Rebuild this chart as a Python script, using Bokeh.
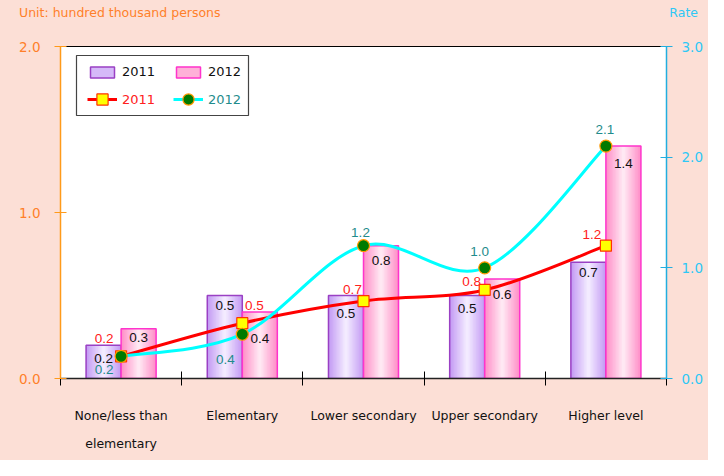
from bokeh.plotting import figure
from bokeh.models import (Range1d, LinearAxis, FixedTicker, Legend, LegendItem,
                          BoxAnnotation, ColumnDataSource, Div)
from bokeh.layouts import column
from bokeh.transform import dodge
from bokeh.embed import file_html
from bokeh.resources import INLINE

# ---------------- data ----------------
categories = ["None/less than\nelementary", "Elementary", "Lower secondary",
              "Upper secondary", "Higher level"]
persons_2011 = [0.2, 0.5, 0.5, 0.5, 0.7]
persons_2012 = [0.3, 0.4, 0.8, 0.6, 1.4]
rate_2011 = [0.2, 0.5, 0.7, 0.8, 1.2]
rate_2012 = [0.2, 0.4, 1.2, 1.0, 2.1]
left_ticks = [0.0, 1.0, 2.0]
right_ticks = [0.0, 1.0, 2.0, 3.0]
series_names = ["2011", "2012"]
unit_text = "Unit: hundred thousand persons"
rate_text = "Rate"

# ---------------- label placement (screen px, down positive) ----------------
bar11_dy = [12.7, 10.4, 17.7, 13.3, 10.3]
bar12_dy = [8.3, 26.0, 14.4, 15.3, 17.4]
rate11_dx = [-17, 12, -11, -13, -14]
rate11_dy = [-18, -18, -12, -8, -11]
rate12_dx = [-17, -17, -3, -5, -1]
rate12_dy = [13, 25, -13, -16, -17]

FONT = "DejaVu Sans"
PEACH = "#fcdfd6"
ORANGE_TXT = "#ff7f2a"
ORANGE_AX = "#ff9a1a"
CYAN_TXT = "#2ec8f5"
CYAN_AX = "#22aee0"
RED = "#ff0000"
TEAL = "#1f8c8c"

n = len(categories)
xc = [i + 0.5 for i in range(n)]
BW = 0.289
HEAD_H = 36

header = Div(text=(
    f'<div style="position:relative;width:708px;height:{HEAD_H}px;'
    f'font-family:\'DejaVu Sans\';font-size:12.5px;line-height:15px;">'
    f'<span style="position:absolute;left:19px;top:5px;color:{ORANGE_TXT};">{unit_text}</span>'
    f'<span style="position:absolute;right:10px;top:5px;color:{CYAN_TXT};">{rate_text}</span>'
    f'</div>'), width=708, height=HEAD_H, margin=0,
    styles={"background-color": PEACH})

p = figure(width=708, height=460 - HEAD_H, output_backend="svg",
           toolbar_location=None, x_range=Range1d(0, n), y_range=Range1d(0, 2),
           min_border_left=60, min_border_right=42, min_border_top=46 - HEAD_H,
           min_border_bottom=82, background_fill_color="white",
           border_fill_color=PEACH, outline_line_color="black",
           outline_line_width=1, margin=0)
p.xgrid.visible = False
p.ygrid.visible = False
p.extra_y_ranges = {"rate": Range1d(0, 3)}

# x axis
xa = p.xaxis[0]
xa.ticker = FixedTicker(ticks=xc, minor_ticks=list(range(n + 1)))
xa.major_label_overrides = {x: c for x, c in zip(xc, categories)}
xa.major_tick_line_color = None
xa.major_tick_out = 0
xa.major_tick_in = 0
xa.minor_tick_line_color = "black"
xa.minor_tick_in = 7
xa.minor_tick_out = 7
xa.axis_line_color = "#222222"
xa.axis_line_width = 1.5
xa.major_label_standoff = 22
xa.major_label_text_font = FONT
xa.major_label_text_font_size = "12.5px"
xa.major_label_text_color = "#111111"
xa.major_label_text_line_height = 1.9

# left axis
ya = p.yaxis[0]
ya.ticker = FixedTicker(ticks=left_ticks)
ya.major_label_overrides = {t: f"{t:.1f}" for t in left_ticks}
ya.axis_line_color = ORANGE_AX
ya.axis_line_width = 1.5
ya.major_tick_line_color = ORANGE_AX
ya.major_tick_in = 6
ya.major_tick_out = 6
ya.minor_tick_line_color = None
ya.major_label_standoff = 14
ya.major_label_text_color = ORANGE_TXT
ya.major_label_text_font = FONT
ya.major_label_text_font_size = "13.5px"

# right axis
ra = LinearAxis(y_range_name="rate", ticker=FixedTicker(ticks=right_ticks))
ra.major_label_overrides = {t: f"{t:.1f}" for t in right_ticks}
ra.axis_line_color = CYAN_AX
ra.axis_line_width = 1.5
ra.major_tick_line_color = CYAN_AX
ra.major_tick_in = 6
ra.major_tick_out = 6
ra.minor_tick_line_color = None
ra.major_label_standoff = 9
ra.major_label_text_color = CYAN_TXT
ra.major_label_text_font = FONT
ra.major_label_text_font_size = "13.5px"
p.add_layout(ra, "right")

# ---------------- bars with horizontal gradient ----------------
src = ColumnDataSource(dict(x=xc, p11=persons_2011, p12=persons_2012,
                            r11=rate_2011, r12=rate_2012,
                            l11=[f"{v:.1f}" for v in persons_2011],
                            l12=[f"{v:.1f}" for v in persons_2012],
                            lr11=[f"{v:.1f}" for v in rate_2011],
                            lr12=[f"{v:.1f}" for v in rate_2012],
                            dy11=bar11_dy, dy12=bar12_dy,
                            rdx11=rate11_dx, rdy11=rate11_dy,
                            rdx12=rate12_dx, rdy12=rate12_dy))


def mix(c1, c2, t):
    a = [int(c1[i:i + 2], 16) for i in (1, 3, 5)]
    b = [int(c2[i:i + 2], 16) for i in (1, 3, 5)]
    return "#" + "".join(f"{round(a[k] + (b[k] - a[k]) * t):02x}" for k in range(3))


def gradient_bar(col, off, edge, center, border):
    layers = 12
    mid = None
    for k in range(layers):
        t = k / (layers - 1)
        w = BW * (1 - k / layers)
        r = p.vbar(x=dodge("x", off, range=p.x_range), top=col, width=w, bottom=0,
                   source=src, fill_color=mix(edge, center, t), line_color=None)
        if k == layers // 3:
            mid = r
    outline = p.vbar(x=dodge("x", off, range=p.x_range), top=col, width=BW, bottom=0,
                     source=src, fill_color=None, line_color=border, line_width=1.5)
    return mid, outline


m11, o11 = gradient_bar("p11", -BW / 2, "#c49cf4", "#f3ebff", "#9a40c4")
m12, o12 = gradient_bar("p12", BW / 2, "#ff90c8", "#ffe8f3", "#ff33cc")

# bar value labels
p.text(x=dodge("x", -BW / 2, range=p.x_range), y="p11", text="l11", source=src,
       y_offset="dy11", text_align="center", text_baseline="middle",
       text_font_size="13.5px", text_color="#111111")
p.text(x=dodge("x", BW / 2, range=p.x_range), y="p12", text="l12", source=src,
       y_offset="dy12", text_align="center", text_baseline="middle",
       text_font_size="13.5px", text_color="#111111")


# ---------------- smooth rate lines ----------------
def smooth(xs, ys):
    m = len(xs)
    seg = dict(x0=[], y0=[], x1=[], y1=[], cx0=[], cy0=[], cx1=[], cy1=[])
    for i in range(m - 1):
        xm, ym = xs[max(i - 1, 0)], ys[max(i - 1, 0)]
        xp, yp = xs[min(i + 2, m - 1)], ys[min(i + 2, m - 1)]
        seg["x0"].append(xs[i]); seg["y0"].append(ys[i])
        seg["x1"].append(xs[i + 1]); seg["y1"].append(ys[i + 1])
        seg["cx0"].append(xs[i] + (xs[i + 1] - xm) / 6)
        seg["cy0"].append(ys[i] + (ys[i + 1] - ym) / 6)
        seg["cx1"].append(xs[i + 1] - (xp - xs[i]) / 6)
        seg["cy1"].append(ys[i + 1] - (yp - ys[i]) / 6)
    return ColumnDataSource(seg)


l11 = p.bezier(x0="x0", y0="y0", x1="x1", y1="y1", cx0="cx0", cy0="cy0",
               cx1="cx1", cy1="cy1", source=smooth(xc, rate_2011),
               line_color=RED, line_width=3, y_range_name="rate")
l12 = p.bezier(x0="x0", y0="y0", x1="x1", y1="y1", cx0="cx0", cy0="cy0",
               cx1="cx1", cy1="cy1", source=smooth(xc, rate_2012),
               line_color="#00ffff", line_width=3, y_range_name="rate")
s11 = p.scatter(x="x", y="r11", source=src, marker="square", size=11,
                fill_color="#ffff00", line_color="#ff3300", line_width=1.2,
                y_range_name="rate")
s12 = p.scatter(x="x", y="r12", source=src, marker="circle", size=12,
                fill_color="#007a00", line_color="#ff9900", line_width=1.2,
                y_range_name="rate")

p.text(x="x", y="r11", text="lr11", source=src, x_offset="rdx11", y_offset="rdy11",
       text_align="center", text_baseline="middle", text_font_size="13.5px",
       text_color="#ff2020", y_range_name="rate")
p.text(x="x", y="r12", text="lr12", source=src, x_offset="rdx12", y_offset="rdy12",
       text_align="center", text_baseline="middle", text_font_size="13.5px",
       text_color=TEAL, y_range_name="rate")

# ---------------- legend ----------------
box = BoxAnnotation(left=16, right=188, bottom=263, top=323,
                    left_units="screen", right_units="screen",
                    bottom_units="screen", top_units="screen",
                    fill_color="white", fill_alpha=1.0,
                    line_color="#444444", line_width=1.2, line_alpha=1.0)
p.add_layout(box)


def make_legend(items, loc, color, gh, ncols=1):
    lg = Legend(items=items, location=loc, ncols=ncols, orientation="vertical",
                border_line_color=None, background_fill_alpha=0, padding=0,
                margin=0, spacing=1, glyph_width=30, glyph_height=gh,
                label_height=gh, label_width=50, label_standoff=5,
                label_text_font=FONT, label_text_font_size="13px",
                label_text_color=color)
    p.add_layout(lg)
    return lg


make_legend([LegendItem(label=series_names[0], renderers=[m11, o11]),
             LegendItem(label=series_names[1], renderers=[m12, o12])],
            (27, 299), "#111111", 14, ncols=2)
make_legend([LegendItem(label=series_names[0], renderers=[l11, s11])],
            (27, 265), "#ff2020", 28)
make_legend([LegendItem(label=series_names[1], renderers=[l12, s12])],
            (113, 265), TEAL, 28)

layout = column(header, p, spacing=0, styles={"background-color": PEACH})
open("out.html", "w").write(file_html(layout, INLINE))
